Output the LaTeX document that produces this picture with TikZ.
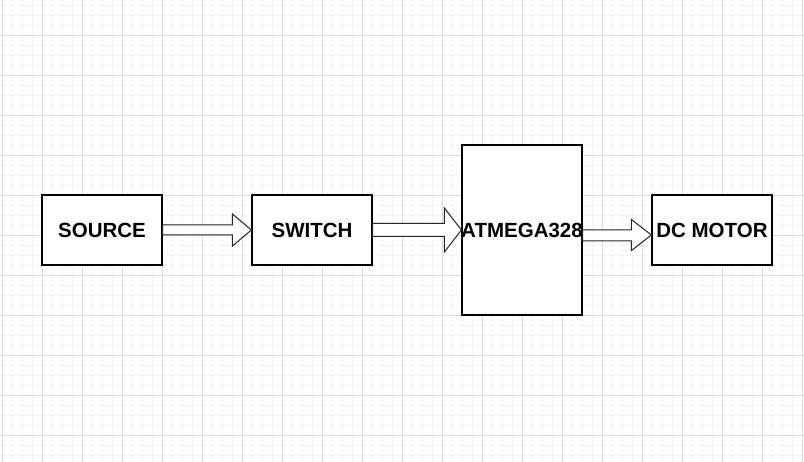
\documentclass[tikz,border=0pt]{standalone}
\usepackage{fontspec}
\setmainfont{Liberation Sans}
\usetikzlibrary{calc}

\definecolor{minorgrid}{HTML}{F5F5F5}
\definecolor{majorgrid}{HTML}{DCDCDC}

\begin{document}
\begin{tikzpicture}[
	x = 1pt, y = -1pt,
	block/.style = {draw, fill = white, line width = 1.2pt,
		minimum width = 120pt, minimum height = 70pt, inner sep = 0pt,
		font = \fontsize{20.5}{24}\selectfont\bfseries},
	blockarrow/.style = {draw = black!85, fill = white, line width = 1pt,
		line join = miter},
	minorline/.style = {minorgrid, line width = 0.7pt},
	majorline/.style = {majorgrid, line width = 0.8pt}
	]
	\useasboundingbox (0,0) rectangle (804,462);
	\fill[white] (0,0) rectangle (804,462);
	% background grid
	\foreach \x in {2,12,...,802} \draw[minorline] (\x,0) -- (\x,462);
	\foreach \y in {5,15,...,455} \draw[minorline] (0,\y) -- (804,\y);
	\foreach \x in {2,42,...,802} \draw[majorline] (\x,0) -- (\x,462);
	\foreach \y in {35,75,...,435} \draw[majorline] (0,\y) -- (804,\y);

	\node[block] (src) at (102,230) {SOURCE};
	\node[block] (sw) at (312,230) {SWITCH};
	\node[block, minimum height = 170pt, inner xsep = -3pt] (atm) at (522,230) {ATMEGA328};
	\node[block] (dc) at (712,230) {DC MOTOR};

	\draw[blockarrow] ($(src.east)+(0,-5)$) -- ($(sw.west)+(-19,-5)$)
		-- ($(sw.west)+(-19,-16)$) -- (sw.west) -- ($(sw.west)+(-19,16)$)
		-- ($(sw.west)+(-19,5)$) -- ($(src.east)+(0,5)$) -- cycle;
	\draw[blockarrow] ($(sw.east)+(0,-6.5)$) -- ($(atm.west)+(-17,-6.5)$)
		-- ($(atm.west)+(-17,-22)$) -- (atm.west) -- ($(atm.west)+(-17,22)$)
		-- ($(atm.west)+(-17,6.5)$) -- ($(sw.east)+(0,6.5)$) -- cycle;
	\draw[blockarrow] ($(atm.east)+(0,0)$) -- ($(dc.west)+(-20,0)$)
		-- ($(dc.west)+(-20,-10.5)$) -- ($(dc.west)+(0,5)$) -- ($(dc.west)+(-20,20.5)$)
		-- ($(dc.west)+(-20,11)$) -- ($(atm.east)+(0,11)$) -- cycle;
\end{tikzpicture}
\end{document}
